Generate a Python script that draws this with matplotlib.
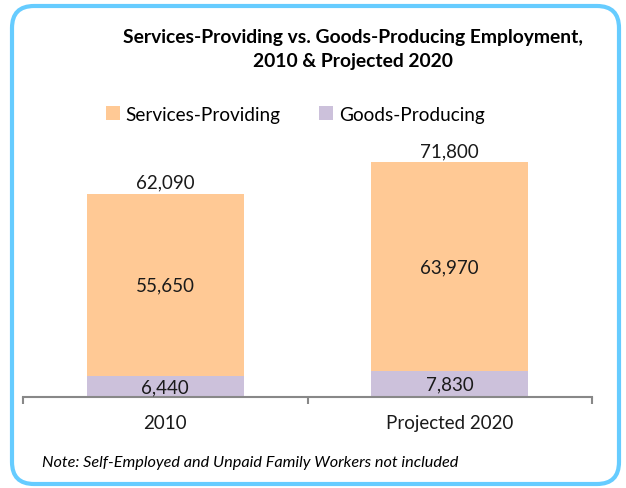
import matplotlib
matplotlib.use("Agg")
import matplotlib.pyplot as plt
from matplotlib.patches import FancyBboxPatch

# data
categories = ["2010", "Projected 2020"]
goods = [6440, 7830]
services = [55650, 63970]
totals = [62090, 71800]

SERV_COLOR = "#FFC995"
GOODS_COLOR = "#CCC1DB"
BORDER = "#66CCFF"
AXIS_GRAY = "#888888"

plt.rcParams["font.family"] = ["Lato", "DejaVu Sans"]

fig = plt.figure(figsize=(6.26, 4.89), dpi=100)

# rounded outer frame (in inches so the corners stay round)
frame = FancyBboxPatch((0.12, 0.04), 6.07, 4.78,
                       boxstyle="round,pad=0,rounding_size=0.22",
                       transform=fig.dpi_scale_trans,
                       facecolor="white", edgecolor=BORDER, linewidth=3.0,
                       zorder=-5)
fig.patches.append(frame)

ax = fig.add_axes([23 / 626, 91 / 489, 569 / 626, 261.6 / 489])
ax.set_facecolor("none")
ax.set_zorder(2)

x = list(range(len(categories)))
width = 0.553
ax.bar(x, goods, width, color=GOODS_COLOR, label="Goods-Producing", zorder=2)
ax.bar(x, services, width, bottom=goods, color=SERV_COLOR,
       label="Services-Providing", zorder=2)

ax.set_xlim(-0.5, 1.5)
ax.set_ylim(0, 80000)

lab = 13.5
for i in x:
    ax.text(i, goods[i] / 2, f"{goods[i]:,}", ha="center", va="center",
            fontsize=lab, color="#1a1a1a", zorder=3)
    ax.text(i, goods[i] + services[i] / 2, f"{services[i]:,}", ha="center",
            va="center", fontsize=lab, color="#1a1a1a", zorder=3)
    ax.text(i, totals[i] + 1000, f"{totals[i]:,}", ha="center", va="bottom",
            fontsize=lab, color="#1a1a1a", zorder=3)

for side in ["top", "right", "left"]:
    ax.spines[side].set_visible(False)
ax.spines["bottom"].set_color(AXIS_GRAY)
ax.spines["bottom"].set_linewidth(1.5)
ax.set_yticks([])
ax.set_xticks(x)
ax.set_xticklabels(categories, fontsize=lab, color="#1a1a1a")
ax.tick_params(axis="x", which="major", length=0, pad=12)
ax.set_xticks([-0.5, 0.5, 1.5], minor=True)
ax.tick_params(axis="x", which="minor", length=5, width=1.5, color=AXIS_GRAY)

fig.text(353 / 626, 1 - 37 / 489,
         "Services-Providing vs. Goods-Producing Employment,",
         ha="center", va="center", fontsize=13.9, fontweight="bold")
fig.text(353 / 626, 1 - 62 / 489, "2010 & Projected 2020",
         ha="center", va="center", fontsize=13.9, fontweight="bold")

handles, labels = ax.get_legend_handles_labels()
fig.legend(handles[::-1], labels[::-1], loc="center",
           bbox_to_anchor=(295 / 626, 1 - 115 / 489), ncol=2, frameon=False,
           fontsize=13.7, handlelength=0.75, handleheight=0.75,
           handletextpad=0.3, columnspacing=2.0)

fig.text(42 / 626, 1 - 463 / 489,
         "Note: Self-Employed and Unpaid Family Workers not included",
         ha="left", va="center", fontsize=11.7, style="italic")

fig.savefig("out.png", dpi=100)
